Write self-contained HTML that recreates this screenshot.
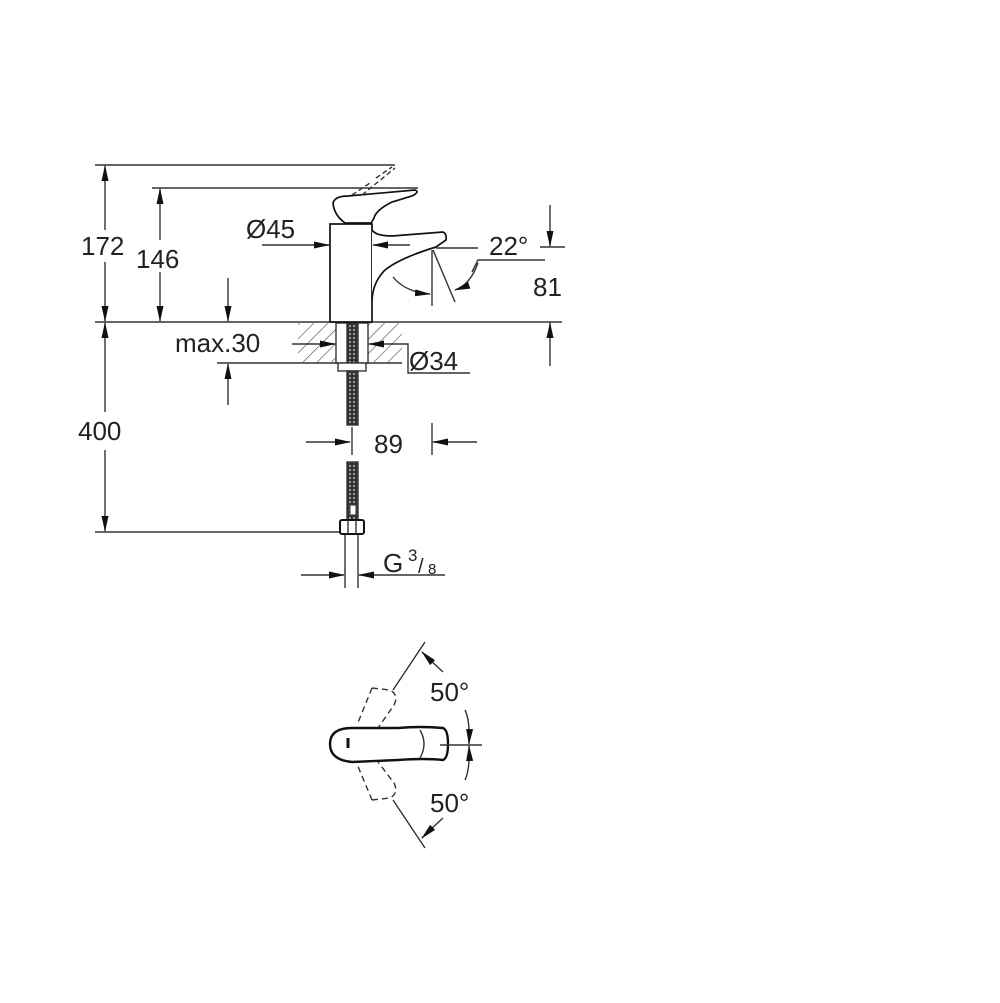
<!DOCTYPE html>
<html><head><meta charset="utf-8"><style>
html,body{margin:0;padding:0;background:#fff}
svg{display:block}
text{font-family:"Liberation Sans",sans-serif;fill:#222}
</style></head><body>
<svg width="1000" height="1003" viewBox="0 0 1000 1003" xmlns="http://www.w3.org/2000/svg">
<defs>
<marker id="a" markerWidth="16" markerHeight="10" refX="15" refY="5" orient="auto" markerUnits="userSpaceOnUse"><path d="M0,1.5 L16,5 L0,8.5 Z" fill="#111"/></marker>
<pattern id="h" width="10" height="10" patternUnits="userSpaceOnUse" patternTransform="rotate(45)"><line x1="0" y1="0" x2="0" y2="10" stroke="#555" stroke-width="1.3"/></pattern>
<pattern id="t" width="4" height="4" patternUnits="userSpaceOnUse"><rect width="4" height="4" fill="#333"/><circle cx="2" cy="2" r="1" fill="#bbb"/></pattern>
</defs>
<g stroke="#333" stroke-width="1.4" fill="none">
<line x1="95" y1="165" x2="395" y2="165"/>
<line x1="152" y1="188" x2="418" y2="188"/>
<line x1="95" y1="322" x2="562" y2="322"/>
<line x1="95" y1="532" x2="342" y2="532"/>
<line x1="105" y1="230" x2="105" y2="166" marker-end="url(#a)"/>
<line x1="105" y1="262" x2="105" y2="321" marker-end="url(#a)"/>
<line x1="160" y1="240" x2="160" y2="189" marker-end="url(#a)"/>
<line x1="160" y1="272" x2="160" y2="321" marker-end="url(#a)"/>
<line x1="105" y1="412" x2="105" y2="323" marker-end="url(#a)"/>
<line x1="105" y1="450" x2="105" y2="531" marker-end="url(#a)"/>
<line x1="228" y1="278" x2="228" y2="321" marker-end="url(#a)"/>
<line x1="217" y1="363" x2="402" y2="363"/>
<line x1="228" y1="405" x2="228" y2="364" marker-end="url(#a)"/>
<rect x="298" y="323" width="38" height="40" fill="url(#h)" stroke="none"/>
<rect x="368" y="323" width="34" height="40" fill="url(#h)" stroke="none"/>
<rect x="336" y="323" width="32" height="40" fill="#fff" stroke="#333"/>
<rect x="347" y="323" width="11" height="40" fill="url(#t)" stroke="#333"/>
<rect x="338" y="363" width="28" height="8" fill="#fff"/>
<line x1="292" y1="344" x2="335" y2="344" marker-end="url(#a)"/>
<line x1="400" y1="344" x2="369" y2="344" marker-end="url(#a)"/>
<polyline points="400,344 408,344 408,373 470,373"/>
<rect x="347" y="371" width="11" height="54" fill="url(#t)" stroke="#333"/>
<rect x="347" y="462" width="11" height="58" fill="url(#t)" stroke="#333"/>
<rect x="350" y="505" width="6" height="10" fill="#fff" stroke="#333" stroke-width="1"/>
<rect x="340" y="520" width="24" height="14" rx="2" fill="#fff" stroke="#111" stroke-width="2"/>
<line x1="348" y1="520" x2="348" y2="534"/><line x1="356" y1="520" x2="356" y2="534"/>
<line x1="352" y1="427" x2="352" y2="455"/>
<line x1="306" y1="442" x2="350" y2="442" marker-end="url(#a)"/>
<line x1="432" y1="423" x2="432" y2="455"/>
<line x1="477" y1="442" x2="433" y2="442" marker-end="url(#a)"/>
<line x1="345" y1="535" x2="345" y2="588"/>
<line x1="358" y1="535" x2="358" y2="588"/>
<line x1="301" y1="575" x2="344" y2="575" marker-end="url(#a)"/>
<line x1="445" y1="575" x2="359" y2="575" marker-end="url(#a)"/>
<rect x="330" y="224" width="42" height="98" fill="#fff" stroke="#111" stroke-width="1.7"/>
<path d="M333,203 Q335,196 348,196 L415,190 Q420,192 412,196 L392,202 Q376,210 374,218 L371,223 L345,223 Q334,215 333,203 Z" fill="#fff" stroke="#111" stroke-width="1.7"/>
<path d="M372,230 Q376,236 392,236 L443,232 Q447,234 446,240 L436,247 Q400,258 385,270 Q373,282 372,300" fill="#fff" stroke="#111" stroke-width="1.7"/>
<path d="M352,195 L370,183 M362,195 L395,168 M376,178 L392,167" stroke-dasharray="5,3"/>
<line x1="262" y1="245" x2="329" y2="245" marker-end="url(#a)"/>
<line x1="410" y1="245" x2="373" y2="245" marker-end="url(#a)"/>
<line x1="436" y1="248" x2="478" y2="248"/>
<line x1="432" y1="250" x2="432" y2="306"/>
<line x1="433" y1="250" x2="455" y2="302"/>
<path d="M393,277 Q405,292 430,294" marker-end="url(#a)"/>
<polyline points="545,260 478,260 472,272"/>
<path d="M478,263 Q470,285 455,290" marker-end="url(#a)"/>
<line x1="550" y1="205" x2="550" y2="246" marker-end="url(#a)"/>
<line x1="540" y1="247" x2="565" y2="247"/>
<line x1="550" y1="366" x2="550" y2="323" marker-end="url(#a)"/>
<line x1="425" y1="642" x2="393" y2="690"/>
<line x1="425" y1="848" x2="393" y2="800"/>
<path d="M372,688 L390,690 Q399,695 394,705 L378,728" stroke-dasharray="6,4"/>
<path d="M372,800 L390,798 Q399,793 394,783 L378,762" stroke-dasharray="6,4"/>
<line x1="372" y1="688" x2="357" y2="725" stroke-dasharray="6,4"/>
<line x1="372" y1="800" x2="357" y2="764" stroke-dasharray="6,4"/>
<path d="M352,728 Q330,728 330,744 Q330,760 352,762 L398,760 Q425,758 443,760 Q448,758 448,744 Q448,730 443,728 Q420,726 398,728 Z" fill="#fff" stroke="#111" stroke-width="2.4"/>
<path d="M420,730 Q428,744 420,758"/>
<line x1="348" y1="738" x2="348" y2="748" stroke="#111" stroke-width="3"/>
<line x1="440" y1="745" x2="482" y2="745"/>
<path d="M443,672 Q430,660 422,652" marker-end="url(#a)"/>
<path d="M443,818 Q430,830 422,838" marker-end="url(#a)"/>
<path d="M465,710 Q470,720 469,744" marker-end="url(#a)"/>
<path d="M465,780 Q470,770 469,746" marker-end="url(#a)"/>
</g>
<g font-size="26">
<text x="81" y="255">172</text>
<text x="136" y="268">146</text>
<text x="78" y="440">400</text>
<text x="246" y="238">Ø45</text>
<text x="489" y="255">22°</text>
<text x="533" y="296">81</text>
<text x="175" y="352">max.30</text>
<text x="409" y="370">Ø34</text>
<text x="374" y="453">89</text>
<text x="383" y="572">G</text>
<text x="430" y="701">50°</text>
<text x="430" y="812">50°</text>
</g>
<text x="408" y="561" font-size="17">3</text>
<text x="418" y="573" font-size="20">/</text>
<text x="428" y="574" font-size="15">8</text>
</svg>
</body></html>
